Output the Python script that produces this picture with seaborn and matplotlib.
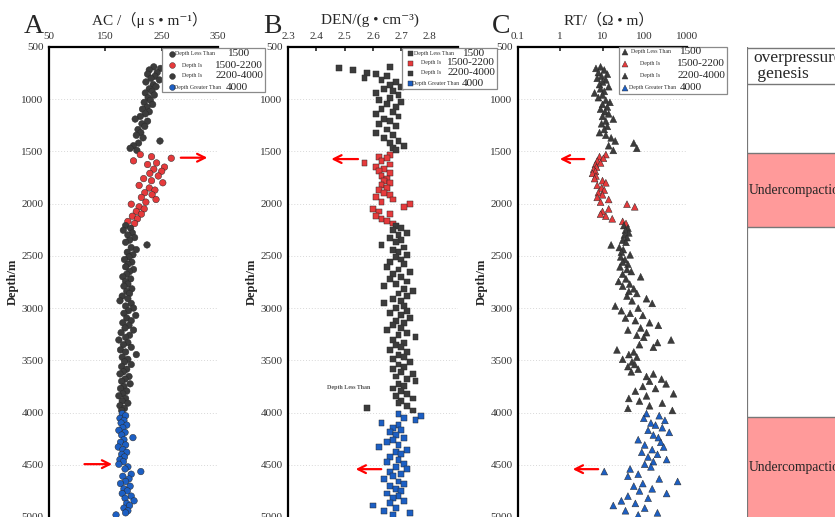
import numpy as np
import pandas as pd
import matplotlib
matplotlib.use("Agg")
import matplotlib.pyplot as plt
import seaborn as sns
from matplotlib.patches import Rectangle
from matplotlib.lines import Line2D

# ---------------- data ----------------
depth = [
    690, 705, 720, 745, 760, 780, 800, 815, 835, 860,
    880, 900, 925, 940, 960, 985, 1010, 1030, 1050, 1075,
    1095, 1120, 1140, 1165, 1190, 1210, 1235, 1260, 1290, 1320,
    1345, 1370, 1400, 1420, 1445, 1470, 1490,
    1530, 1550, 1565, 1590, 1610, 1625, 1650, 1670, 1690, 1710,
    1735, 1760, 1780, 1800, 1825, 1850, 1870, 1895, 1915, 1940,
    1960, 1985, 2005, 2030, 2050, 2075, 2100, 2120, 2145, 2170,
    2190,
    2210, 2235, 2255, 2280, 2300, 2325, 2350, 2370, 2395, 2420,
    2440, 2465, 2490, 2510, 2535, 2560, 2580, 2605, 2630, 2650,
    2675, 2700, 2720, 2745, 2770, 2790, 2815, 2840, 2860, 2885,
    2910, 2930, 2955, 2980, 3000, 3025, 3050, 3070, 3095, 3120,
    3140, 3165, 3190, 3210, 3235, 3260, 3280, 3305, 3330, 3350,
    3375, 3400, 3420, 3445, 3470, 3490, 3515, 3540, 3560, 3585,
    3610, 3630, 3655, 3680, 3700, 3725, 3750, 3770, 3795, 3820,
    3840, 3865, 3890, 3910, 3935, 3960, 3980,
    4010, 4030, 4055, 4075, 4100, 4120, 4145, 4170, 4190, 4215,
    4240, 4260, 4285, 4310, 4330, 4355, 4380, 4400, 4425, 4450,
    4470, 4495, 4520, 4540, 4565, 4590, 4610, 4635, 4660, 4680,
    4705, 4730, 4750, 4775, 4800, 4820, 4845, 4870, 4890, 4915,
    4940, 4960, 4980,
]

ac = [
    236, 248, 228, 242, 225, 238, 231, 246, 222, 235,
    240, 228, 233, 221, 237, 226, 230, 219, 234, 224,
    216, 228, 221, 212, 203, 225, 215, 220, 208, 213,
    205, 217, 247, 209, 200, 194, 206,
    212, 232, 267, 200, 241, 225, 255, 236, 250, 229,
    244, 218, 232, 252, 210, 228, 238, 220, 233, 214,
    240, 222, 196, 210, 219, 205, 214, 198, 207, 190,
    202,
    186, 195, 182, 198, 190, 202, 193, 186, 224, 196,
    205, 189, 199, 192, 184, 197, 190, 186, 200, 193,
    188, 181, 195, 186, 190, 183, 197, 188, 193, 180,
    190, 176, 196, 186, 200, 191, 183, 204, 188, 196,
    181, 192, 185, 200, 178, 193, 186, 174, 190, 182,
    196, 177, 186, 205, 180, 190, 184, 196, 179, 188,
    182, 176, 192, 185, 179, 194, 183, 177, 188, 181,
    174, 186, 180, 190, 176, 184, 179,
    180, 186, 176, 183, 178, 188, 181, 174, 185, 179,
    199, 183, 177, 186, 173, 181, 188, 179, 184, 176,
    182, 174, 190, 185, 213, 196, 181, 192, 186, 177,
    194, 183, 189, 180, 196, 185, 201, 188, 193, 183,
    190, 186, 169,
]

den = [
    2.66, 2.48, 2.53, 2.58, 2.61, 2.65, 2.57, 2.63, 2.68, 2.66,
    2.70, 2.64, 2.67, 2.61, 2.69, 2.66, 2.62, 2.70, 2.65, 2.68,
    2.63, 2.67, 2.61, 2.69, 2.64, 2.66, 2.62, 2.68, 2.65, 2.61,
    2.67, 2.64, 2.69, 2.66, 2.71, 2.67, 2.68,
    2.66, 2.62, 2.65, 2.63, 2.57, 2.66, 2.61, 2.64, 2.62, 2.66,
    2.63, 2.65, 2.64, 2.66, 2.63, 2.65, 2.62, 2.64, 2.66, 2.61,
    2.67, 2.63, 2.73, 2.71, 2.60, 2.62, 2.66, 2.61, 2.63, 2.65,
    2.67,
    2.68, 2.70, 2.67, 2.72, 2.69, 2.66, 2.70, 2.68, 2.63, 2.71,
    2.67, 2.69, 2.72, 2.68, 2.70, 2.66, 2.71, 2.65, 2.69, 2.73,
    2.67, 2.70, 2.66, 2.72, 2.68, 2.64, 2.71, 2.74, 2.69, 2.72,
    2.67, 2.70, 2.64, 2.71, 2.68, 2.72, 2.66, 2.70, 2.73, 2.68,
    2.71, 2.67, 2.70, 2.65, 2.72, 2.69, 2.75, 2.67, 2.71, 2.68,
    2.70, 2.66, 2.72, 2.69, 2.71, 2.67, 2.73, 2.69, 2.71, 2.67,
    2.70, 2.74, 2.68, 2.72, 2.75, 2.69, 2.71, 2.67, 2.70, 2.72,
    2.68, 2.74, 2.70, 2.69, 2.72, 2.58, 2.74,
    2.69, 2.77, 2.71, 2.75, 2.63, 2.69, 2.67, 2.70, 2.66, 2.68,
    2.71, 2.67, 2.65, 2.69, 2.62, 2.72, 2.68, 2.70, 2.66, 2.69,
    2.65, 2.71, 2.68, 2.72, 2.66, 2.70, 2.67, 2.64, 2.69, 2.71,
    2.66, 2.68, 2.70, 2.65, 2.69, 2.67, 2.71, 2.66, 2.60, 2.68,
    2.64, 2.73, 2.67,
]

rt = [
    9, 7, 11, 8, 13, 9.5, 7.5, 12, 10, 8.5,
    14, 9, 11, 6.5, 10, 8, 12, 15, 10, 13,
    9, 11.5, 14, 10, 18, 12, 9.5, 13, 11, 8.5,
    12, 16, 20, 55, 14, 65, 18,
    12, 8.5, 10.5, 7.5, 9, 6.8, 7.2, 6.2, 6.8, 5.8,
    7, 6.5, 10, 12, 7.5, 9.5, 11, 8, 10, 7.5,
    14, 9, 38, 58, 14, 10, 9, 12, 17, 30,
    36,
    32, 40, 35, 42, 33, 38, 30, 36, 16, 25,
    31, 28, 45, 27, 34, 30, 40, 26, 38, 48,
    30, 80, 36, 24, 44, 30, 55, 42, 65, 38,
    110, 50, 150, 20, 70, 28, 45, 90, 35, 60,
    130, 210, 80, 40, 110, 65, 95, 420, 200, 75,
    160, 22, 55, 42, 65, 30, 50, 58, 40, 70,
    48, 160, 110, 250, 130, 320, 90, 180, 60, 480,
    110, 42, 75, 260, 130, 40, 450,
    110, 220, 95, 300, 140, 180, 260, 120, 380, 160,
    210, 70, 240, 100, 280, 150, 85, 200, 120, 330,
    160, 100, 140, 45, 11, 70, 40, 220, 600, 90,
    55, 150, 75, 330, 40, 120, 28, 60, 18, 100,
    35, 200, 70,
]

group_edges = [0, 1500, 2200, 4000, 6000]
group_names = ["shallow", "uc1", "mid", "deep"]
legend_small = ["Depth Less Than", "Depth Is", "Depth Is", "Depth Greater Than"]
legend_nums = ["1500", "1500-2200", "2200-4000", "4000"]
depth_ticks = [500, 1000, 1500, 2000, 2500, 3000, 3500, 4000, 4500, 5000]
ac_ticks = [50, 150, 250, 350]
den_ticks = [2.3, 2.4, 2.5, 2.6, 2.7, 2.8]
rt_ticks = [0.1, 1, 10, 100, 1000]
rt_ticklabels = ["0.1", "1", "10", "100", "1000"]
zones_top = [1515, 4044]
zones_bottom = [2224, 5000]
zone_label = "Undercompaction"

# ---------------- styling ----------------
sns.set_style("white")
plt.rcParams["font.family"] = ["Liberation Serif", "DejaVu Serif"]
plt.rcParams["axes.unicode_minus"] = False

DARK = "#3c3c3c"
RED = "#e63a3c"
BLUE = "#1c5fc4"
palette = {"shallow": DARK, "uc1": RED, "mid": DARK, "deep": BLUE}
colors_list = [DARK, RED, DARK, BLUE]

df = pd.DataFrame({"depth": depth, "AC": ac, "DEN": den, "RT": rt})
df["group"] = pd.cut(df["depth"], bins=group_edges, labels=group_names).astype(str)

W, H = 835, 517
fig = plt.figure(figsize=(W / 100, H / 100), dpi=100)


def fx(px):
    return px / W


def fy(py):
    return 1 - py / H


def make_axes(left_px, right_px):
    return fig.add_axes([fx(left_px), 0, (right_px - left_px) / W, (H - 47) / H])


def style_axes(ax):
    for s in ["right", "bottom"]:
        ax.spines[s].set_visible(False)
    for s in ["left", "top"]:
        ax.spines[s].set_linewidth(1.6)
        ax.spines[s].set_color("black")
    ax.set_ylim(5000, 500)
    ax.set_yticks(depth_ticks)
    ax.set_yticks(np.arange(750, 5000, 500), minor=True)
    ax.yaxis.grid(True, which="major", linestyle=(0, (1, 2)), color="#d8d8d8", lw=0.7)
    ax.xaxis.grid(False)
    ax.xaxis.tick_top()
    ax.tick_params(axis="y", which="major", direction="out", length=3, width=1,
                   labelsize=8, colors="black", labelcolor="#333333", pad=1)
    ax.tick_params(axis="y", which="minor", direction="in", length=2, width=0.8)
    ax.tick_params(axis="x", which="major", direction="in", length=3, width=1.2,
                   labelsize=8, labelcolor="#333333", pad=4.5)
    ax.tick_params(axis="x", which="minor", length=0)
    ax.set_xlabel("")
    ax.set_ylabel("Depth/m", fontsize=9, fontweight="bold", labelpad=2)
    ax.set_facecolor("white")


axA = make_axes(49, 218)
axB = make_axes(288, 458)
axC = make_axes(518, 687)

sns.scatterplot(data=df, x="AC", y="depth", hue="group", palette=palette, marker="o",
                s=22, edgecolor="#2a2a2a", linewidth=0.35, legend=False, ax=axA, zorder=3)
sns.scatterplot(data=df, x="DEN", y="depth", hue="group", palette=palette, marker="s",
                s=18, edgecolor="#2a2a2a", linewidth=0.35, legend=False, ax=axB, zorder=3)
sns.scatterplot(data=df, x="RT", y="depth", hue="group", palette=palette, marker="^",
                s=24, edgecolor="#2a2a2a", linewidth=0.35, legend=False, ax=axC, zorder=3)

for ax in (axA, axB, axC):
    style_axes(ax)

axA.set_xlim(50, 350)
axA.set_xticks(ac_ticks)

axB.set_xlim(2.3, 2.9)
axB.set_xticks(den_ticks)
axB.set_xticklabels([f"{t:.1f}" for t in den_ticks])

axC.set_xscale("log")
axC.set_xlim(0.1, 1000)
axC.set_xticks(rt_ticks)
axC.set_xticklabels(rt_ticklabels)
axC.xaxis.set_minor_locator(matplotlib.ticker.NullLocator())

# axis titles (placed like the reference, above the tick labels)
title_family = ["Liberation Serif", "Noto Sans CJK SC", "DejaVu Serif"]
for txt, cx in (("AC /（μ s • m⁻¹）", 150), ("DEN/(g • cm⁻³)", 370), ("RT/（Ω • m）", 609)):
    fig.text(fx(cx), fy(20), txt, fontsize=11, ha="center", va="center", family=title_family)

# panel letters
for letter, cx in (("A", 34), ("B", 272), ("C", 501)):
    fig.text(fx(cx), fy(33), letter, fontsize=20, ha="center", va="baseline",
             family=["Liberation Serif"])

# arrows
arrow_kw = dict(arrowstyle="->", color="red", lw=1.6, mutation_scale=14)
axA.annotate("", xy=(336, 1560), xytext=(279, 1560), arrowprops=arrow_kw, annotation_clip=False)
axA.annotate("", xy=(167, 4494), xytext=(108, 4494), arrowprops=arrow_kw, annotation_clip=False)
axB.annotate("", xy=(2.443, 1573), xytext=(2.557, 1573), arrowprops=arrow_kw, annotation_clip=False)
axB.annotate("", xy=(2.529, 4542), xytext=(2.639, 4542), arrowprops=arrow_kw, annotation_clip=False)
axC.annotate("", xy=(0.84, 1573), xytext=(4.3, 1573), arrowprops=arrow_kw, annotation_clip=False)
axC.annotate("", xy=(1.7, 4542), xytext=(9.2, 4542), arrowprops=arrow_kw, annotation_clip=False)

# stray text in panel B
fig.text(fx(349), fy(387), "Depth Less Than", fontsize=4.3, ha="center", va="center",
         color="#555555", fontweight="bold")


# legends
def draw_legend(box, rows_y, mx, small_x, num_pos, marker, ms):
    x0, y0, x1, y1 = box
    fig.add_artist(Rectangle((fx(x0), fy(y1)), (x1 - x0) / W, (y1 - y0) / H,
                             transform=fig.transFigure, facecolor="white",
                             edgecolor="#8a8a8a", lw=0.9, zorder=10))
    for i in range(4):
        yy = fy(rows_y[i])
        fig.add_artist(Line2D([fx(mx[i])], [yy], marker=marker, markersize=ms,
                              color=colors_list[i], markeredgecolor="#2a2a2a",
                              markeredgewidth=0.3, linestyle="none",
                              transform=fig.transFigure, zorder=11))
        fig.text(fx(small_x[i]), yy, legend_small[i], fontsize=4.2, ha="left",
                 va="center", color="#333333", zorder=12)
        nx, nha = num_pos[i]
        fig.text(fx(nx), yy, legend_nums[i], fontsize=8, ha=nha, va="center",
                 color="#222222", zorder=12)


draw_legend((162, 48, 265, 92), [54, 65, 76, 87], [172, 172, 172, 172],
            [175, 182, 182, 174],
            [(228, "left"), (263, "right"), (263, "right"), (226, "left")], "o", 4.2)
draw_legend((402, 48, 497, 89), [53, 63, 73, 83], [410, 410, 410, 410],
            [414, 421, 421, 412],
            [(463, "left"), (495, "right"), (495, "right"), (462, "left")], "s", 3.6)
draw_legend((619, 47, 727, 94), [52, 64, 76, 88], [625, 625, 625, 625],
            [631, 640, 640, 629],
            [(680, "left"), (725, "right"), (725, "right"), (680, "left")], "^", 4.0)

# overpressure genesis column
axT = fig.add_axes([fx(747), 0, (W - 747 + 40) / W, (H - 47) / H])
axT.set_ylim(5000, 500)
axT.set_xlim(0, 1)
axT.axis("off")
for top, bot in zip(zones_top, zones_bottom):
    axT.axhspan(top, bot, facecolor="#ff9a9a", edgecolor="none", zorder=1)
    axT.text(0.01, (top + bot) / 2, zone_label, fontsize=9.8, ha="left", va="center", zorder=3)
for yline in [505, 855, 1515, 2224, 4044]:
    axT.axhline(yline, color="#777777", lw=1.0, zorder=2)
axT.axvline(0.0, color="#777777", lw=1.6, zorder=2)
axT.text(0.05, 530, "overpressure\n genesis", fontsize=12.5, ha="left", va="top",
         linespacing=0.95, zorder=3)

fig.savefig("out.png", dpi=100)
